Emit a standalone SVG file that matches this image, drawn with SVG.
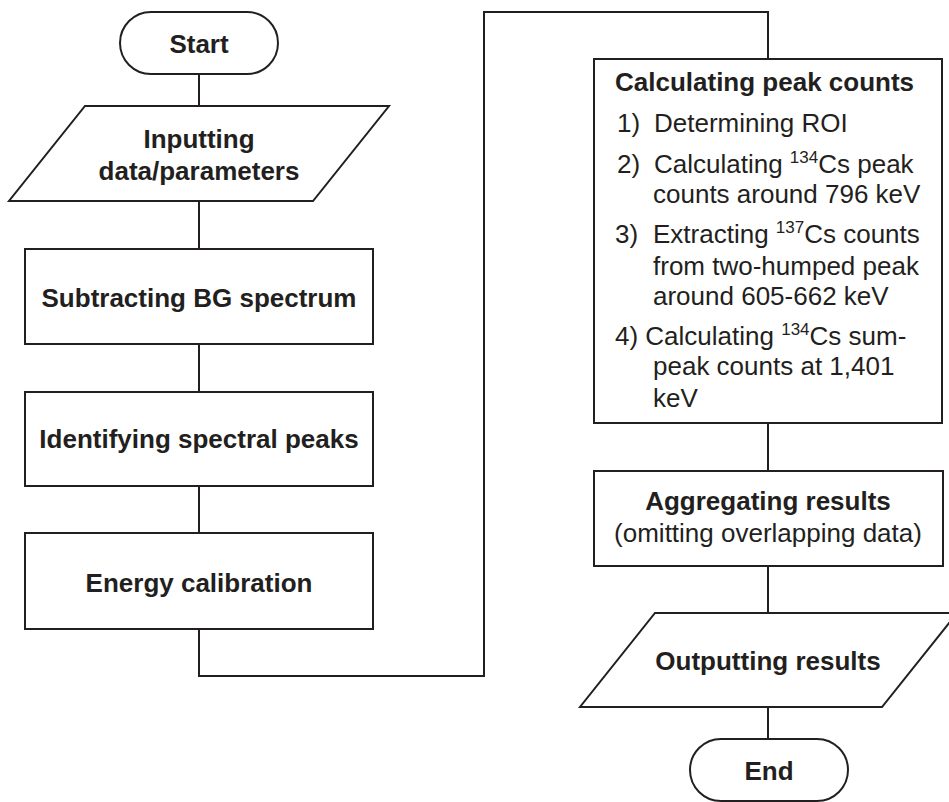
<svg xmlns="http://www.w3.org/2000/svg" width="949" height="802" viewBox="0 0 949 802">
<style>
.s{fill:#fff;stroke:#231f20;stroke-width:2}
.c{fill:none;stroke:#231f20;stroke-width:2}
text{font-family:"Liberation Sans",Arial,sans-serif;font-size:26px;fill:#231f20}
.b{font-weight:bold}
.m{text-anchor:middle}
.sup{font-size:17px}
</style>
<rect width="949" height="802" fill="#fff"/>
<g id="connectors">
<path class="c" d="M199 74V106M199 201V249M199 344V392M199 486V533M199 629V676H484V12H768V59M768 423V471M768 566V613M768 707V739"/>
</g>
<g id="start">
<rect class="s" x="120" y="12" width="158" height="62" rx="31"/>
<text class="b m" x="199" y="53">Start</text>
</g>
<g id="input">
<polygon class="s" points="85,106 389,106 313,201 9,201"/>
<text class="b m" x="199" y="148">Inputting</text>
<text class="b m" x="199" y="180">data/parameters</text>
</g>
<g id="subtract">
<rect class="s" x="25" y="249" width="348" height="95"/>
<text class="b m" x="199" y="307">Subtracting BG spectrum</text>
</g>
<g id="identify">
<rect class="s" x="25" y="392" width="348" height="94"/>
<text class="b m" x="199" y="448">Identifying spectral peaks</text>
</g>
<g id="energy">
<rect class="s" x="25" y="533" width="348" height="96"/>
<text class="b m" x="199" y="592">Energy calibration</text>
</g>
<g id="calc">
<rect class="s" x="594" y="59" width="348" height="364"/>
<text class="b" x="615" y="91">Calculating peak counts</text>
<text x="617" y="132">1)</text><text x="654" y="132">Determining ROI</text>
<text x="617" y="173">2)</text><text x="654" y="173">Calculating <tspan class="sup" dy="-10">134</tspan><tspan dy="10">Cs peak</tspan></text>
<text x="653" y="203">counts around 796 keV</text>
<text x="615" y="243">3)</text><text x="653" y="243">Extracting <tspan class="sup" dy="-10">137</tspan><tspan dy="10">Cs counts</tspan></text>
<text x="653" y="275">from two-humped peak</text>
<text x="653" y="305">around 605-662 keV</text>
<text x="615" y="345">4) Calculating <tspan class="sup" dy="-10">134</tspan><tspan dy="10">Cs sum-</tspan></text>
<text x="653" y="375">peak counts at 1,401</text>
<text x="653" y="407">keV</text>
</g>
<g id="aggregate">
<rect class="s" x="594" y="471" width="349" height="95"/>
<text class="b m" x="768" y="510">Aggregating results</text>
<text class="m" x="768" y="542">(omitting overlapping data)</text>
</g>
<g id="output">
<polygon class="s" points="655,613 957,613 882,707 580,707"/>
<text class="b m" x="768" y="670">Outputting results</text>
</g>
<g id="end">
<rect class="s" x="690" y="739" width="158" height="62" rx="31"/>
<text class="b m" x="769" y="780">End</text>
</g>
</svg>
